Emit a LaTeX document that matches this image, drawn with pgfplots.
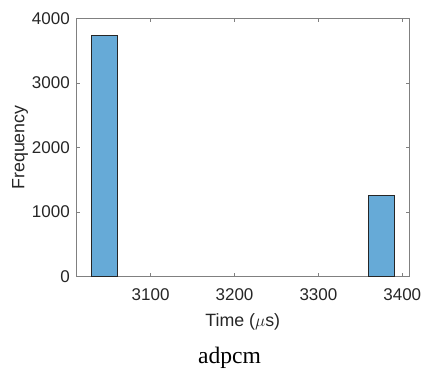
\documentclass[border=0pt]{standalone}
\usepackage{pgfplots}
\pgfplotsset{compat=1.18}
\usepackage{fontspec}
\setmainfont{Liberation Sans}
\newfontfamily\capfont{Liberation Serif}
\definecolor{barfill}{rgb}{0.4,0.667,0.843}
\definecolor{axgray}{rgb}{0.5,0.5,0.5}
\definecolor{txt}{rgb}{0.15,0.15,0.15}
\begin{document}
\begin{tikzpicture}[x=1pt,y=1pt]
\useasboundingbox (0,0) rectangle (422,369);
\begin{axis}[
  at={(76.5pt,92.3pt)}, anchor=south west,
  width=332.5pt, height=258.4pt, scale only axis,
  xmin=3011.6, xmax=3408, ymin=0, ymax=4000,
  xtick={3100,3200,3300,3400}, ytick={0,1000,2000,3000,4000},
  tick align=inside, major tick length=3.5pt,
  axis line style={axgray, line width=0.7pt},
  tick style={axgray, line width=0.7pt},
  font=\fontsize{17}{20}\selectfont,
  tick label style={txt},
  /pgf/number format/assume math mode=true,
  /pgf/number format/set thousands separator={},
  scaled ticks=false,
  xticklabel style={anchor=base, inner sep=0pt, yshift=-24pt},
  yticklabel style={anchor=east, inner sep=0pt, xshift=-6.5pt},
  xlabel={Time ($\mu$s)}, ylabel={Frequency},
  label style={font=\fontsize{17.8}{21}\selectfont},
  xlabel style={at={(axis description cs:0.5,-0.1935)}, anchor=base, inner sep=0pt, txt},
  ylabel style={at={(axis description cs:-0.157,0.5)}, anchor=base, inner sep=0pt, txt},
]
\addplot[ybar interval, fill=barfill, draw=txt, line width=0.6pt] coordinates {(3029.2,3741) (3059.8,3741)};
\addplot[ybar interval, fill=barfill, draw=txt, line width=0.6pt] coordinates {(3360,1260) (3391,1260)};
\end{axis}
\node[font=\capfont\fontsize{23.6}{28}\selectfont, anchor=base, inner sep=0pt] at (229.5,6) {adpcm};
\end{tikzpicture}
\end{document}
